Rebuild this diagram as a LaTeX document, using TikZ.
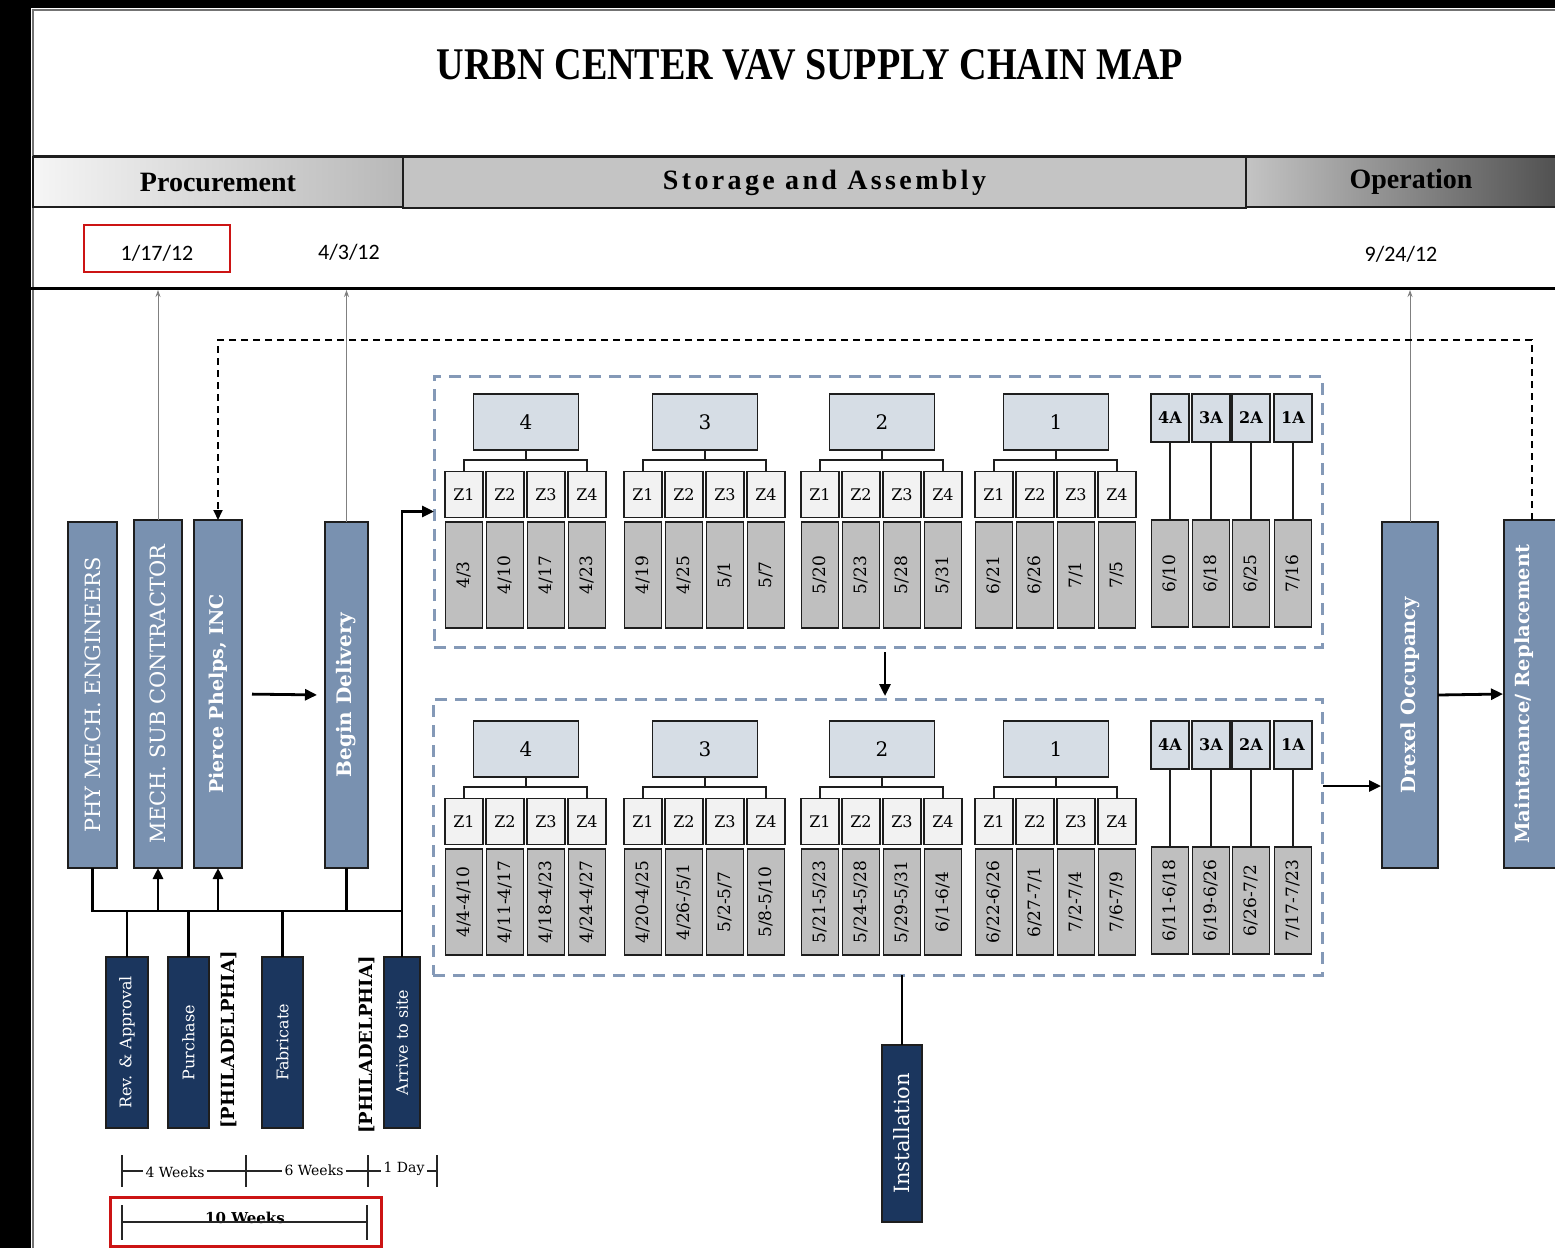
\documentclass[tikz,border=0pt]{standalone}
\usepackage{graphicx}
\usepackage{fontspec}
\setmainfont{DejaVu Serif}
\newfontfamily\tnr{Liberation Serif}
\newfontfamily\tnrsp[LetterSpace=12]{Liberation Serif}
\newfontfamily\calfnt{Carlito}
\usetikzlibrary{arrows.meta,calc}
\definecolor{steel}{RGB}{121,145,176}
\definecolor{navy}{RGB}{27,54,94}
\definecolor{floorc}{RGB}{214,221,229}
\definecolor{zc}{RGB}{242,242,242}
\definecolor{datec}{RGB}{191,191,191}
\definecolor{dashc}{RGB}{132,153,183}
\definecolor{redc}{RGB}{204,20,20}
\definecolor{hdrA}{RGB}{245,245,245}
\definecolor{hdrB}{RGB}{184,184,184}
\definecolor{hdrC}{RGB}{196,196,196}
\definecolor{hdrD}{RGB}{168,168,168}
\definecolor{hdrE}{RGB}{74,74,74}
\definecolor{edge}{RGB}{30,30,30}

\newcommand\zcol[5]{%
  \node[zbox] (#1z#2) at ({#3},{494.5+#4}) {Z#2};
  \node[datebox] (#1d#2) at ({#3},{575+#4}) {\rotatebox{90}{#5}};}
\newcommand\flgroup[8]{%
  \node[floorbox] (#1f) at ({#2+81},{422+#3}) {#4};
  \zcol{#1}{1}{#2+19}{#3}{#5}
  \zcol{#1}{2}{#2+60}{#3}{#6}
  \zcol{#1}{3}{#2+101}{#3}{#7}
  \zcol{#1}{4}{#2+142}{#3}{#8}
  \coordinate (#1lv) at ($(#1f.south)+(0,10)$);
  \draw[tree] (#1f.south) -- (#1lv);
  \draw[tree] (#1z1.north) |- (#1lv) -| (#1z4.north);}
\newcommand\acol[5]{%
  \node[abox] (#1) at ({#2},{418+#3}) {#4};
  \node[datebox, minimum height=107] (#1d) at ({#2},{573.5+#3}) {\rotatebox{90}{#5}};
  \draw[tree] (#1.south) -- (#1d.north);}

\begin{document}
\begin{tikzpicture}[x=1pt,y=-1pt,
  every node/.style={inner sep=0pt, outer sep=0pt},
  vbox/.style={draw=edge, line width=1.5pt, fill=steel, text=white},
  nbox/.style={draw=edge, line width=1.5pt, fill=navy, text=white, font=\fontsize{16}{16}\selectfont},
  floorbox/.style={draw=edge, line width=1.5pt, fill=floorc, minimum width=105, minimum height=56, font=\fontsize{20}{20}\selectfont},
  zbox/.style={draw=edge, line width=1.3pt, fill=zc, minimum width=38, minimum height=46, font=\fontsize{16}{16}\selectfont},
  datebox/.style={draw=edge, line width=1.3pt, fill=datec, minimum width=37, minimum height=106, font=\fontsize{17}{17}\selectfont},
  abox/.style={draw=edge, line width=1.3pt, fill=floorc, minimum width=38, minimum height=48, font=\bfseries\fontsize{16}{16}\selectfont},
  grpframe/.style={draw=dashc, line width=3pt, dash pattern=on 12pt off 8pt},
  tree/.style={draw=edge, line width=1.3pt},
  busline/.style={draw=black, line width=2.8pt},
  bigarr/.style={draw=black, line width=2.8pt, -{Triangle[length=12pt,width=11pt]}},
  thinup/.style={draw=gray, line width=1pt, -{Stealth[length=7pt,width=5pt]}},
  fbdash/.style={draw=black, line width=1.8pt, dash pattern=on 7pt off 5pt},
  hdrcell/.style={draw=edge, line width=1.8pt, anchor=north west},
  datelbl/.style={font=\calfnt\fontsize{22}{22}\selectfont},
  tlbl/.style={fill=white, inner xsep=3pt, inner ysep=1pt, font=\fontsize{14}{14}\selectfont},
  phil/.style={font=\bfseries\fontsize{18}{18}\selectfont}
]
\clip (0,0) rectangle (1555,1248);
\fill[black] (0,0) rectangle (1555,1248);
\fill[white] (31,8) rectangle (1555,1248);
\draw[black!55, line width=1.2pt] (33,1248) -- (33,10) -- (1555,10);

% title
\node (title) at (810,65) {\resizebox{746pt}{30pt}{\tnr\bfseries URBN CENTER VAV SUPPLY CHAIN MAP}};

% header
\draw[edge, line width=2pt] (33,156) -- (1555,156);
\node[hdrcell, left color=hdrA, right color=hdrB, minimum width=370, minimum height=50] (proc) at (33,157) {\tnr\bfseries\fontsize{28}{28}\selectfont Procurement};
\node[hdrcell, fill=hdrC, minimum width=843, minimum height=51] (stor) at (403,157) {\tnrsp\bfseries\fontsize{28}{28}\selectfont Storage and Assembly};
\node[hdrcell, left color=hdrC, middle color=hdrD, right color=hdrE, minimum width=330, minimum height=50] (oper) at (1246,157) {\tnr\bfseries\fontsize{28}{28}\selectfont Operation};

% dates
\node[datelbl, draw=redc, line width=2.5pt, minimum width=146, minimum height=47] (d1) at (157,248.5) {\raisebox{-12pt}[0pt][0pt]{1/17/12}};
\node[datelbl] (d2) at (349,252) {4/3/12};
\node[datelbl] (d3) at (1401,254) {9/24/12};
\draw[black, line width=3pt] (30,288) -- (1555,288);
\coordinate (tl) at (0,290);

% vertical boxes
\node[vbox, minimum width=49, minimum height=346, font=\fontsize{21}{21}\selectfont] (phy) at (92.5,695) {\rotatebox{90}{PHY MECH. ENGINEERS}};
\node[vbox, minimum width=48, minimum height=348, font=\fontsize{21}{21}\selectfont] (msub) at (158,694) {\rotatebox{90}{MECH. SUB CONTRACTOR}};
\node[vbox, minimum width=48, minimum height=348, font=\bfseries\fontsize{19}{19}\selectfont] (pp) at (218,694) {\rotatebox{90}{Pierce Phelps, INC}};
\node[vbox, minimum width=43, minimum height=346, font=\bfseries\fontsize{20}{20}\selectfont] (bd) at (346.5,695) {\rotatebox{90}{Begin Delivery}};
\node[vbox, minimum width=56, minimum height=346, font=\bfseries\fontsize{19.5}{19.5}\selectfont] (drex) at (1410,695) {\rotatebox{90}{Drexel Occupancy}};
\node[vbox, minimum width=56, minimum height=348] (maint) at (1532,694) {};
\node[text=white, font=\bfseries\fontsize{19.5}{19.5}\selectfont] (maintlbl) at (1524,694) {\rotatebox{90}{Maintenance/ Replacement}};

% thin up arrows to timeline
\draw[thinup] (msub.north) -- (msub.north |- tl);
\draw[thinup] (bd.north) -- (bd.north |- tl);
\draw[thinup] (drex.north) -- (drex.north |- tl);

% feedback dashed
\coordinate (fbl) at (218,340);
\draw[fbdash, -{Triangle[length=10pt,width=9pt]}] (maint.north) |- (fbl) -- (pp.north);

% arrows
\draw[bigarr, shorten <=10pt, shorten >=8pt] (pp.east) -- (bd.west);
\draw[bigarr, shorten <=0pt, shorten >=1pt] (drex.east) -- (maint.west);

% bottom small boxes
\node[nbox, minimum width=42, minimum height=171] (rev) at (127,1042.5) {\rotatebox{90}{Rev. \& Approval}};
\node[nbox, minimum width=41, minimum height=171] (pur) at (188.5,1042.5) {\rotatebox{90}{Purchase}};
\node[nbox, minimum width=41, minimum height=171] (fab) at (282.5,1042.5) {\rotatebox{90}{Fabricate}};
\node[nbox, minimum width=36, minimum height=171] (arr) at (402,1042.5) {\rotatebox{90}{Arrive to site}};
\node[phil] (phil1) at (229,1040) {\rotatebox{90}{[PHILADELPHIA]}};
\node[phil] (phil2) at (367,1045) {\rotatebox{90}{[PHILADELPHIA]}};

% group frames
\node[grpframe, minimum width=888, minimum height=271] (gtop) at (878,511.5) {};
\node[grpframe, minimum width=889, minimum height=276] (gbot) at (877.5,837) {};

% bus
\coordinate (busy) at (0,911);
\draw[busline] (phy.south) -- (phy.south |- busy) -- (arr.north |- busy);
\draw[busline, -{Triangle[length=11pt,width=10pt]}] (msub.south |- busy) -- (msub.south);
\draw[busline, -{Triangle[length=11pt,width=10pt]}] (pp.south |- busy) -- (pp.south);
\draw[busline] (bd.south) -- (bd.south |- busy);
\draw[busline] (rev.north) -- (rev.north |- busy);
\draw[busline] (pur.north) -- (pur.north |- busy);
\draw[busline] (fab.north) -- (fab.north |- busy);
\draw[bigarr] (arr.north) |- (gtop.west);

% top group
\flgroup{t4}{445}{0}{4}{4/3}{4/10}{4/17}{4/23}
\flgroup{t3}{624}{0}{3}{4/19}{4/25}{5/1}{5/7}
\flgroup{t2}{801}{0}{2}{5/20}{5/23}{5/28}{5/31}
\flgroup{t1}{975}{0}{1}{6/21}{6/26}{7/1}{7/5}
\acol{ta4}{1170}{0}{4A}{6/10}
\acol{ta3}{1211}{0}{3A}{6/18}
\acol{ta2}{1251}{0}{2A}{6/25}
\acol{ta1}{1293}{0}{1A}{7/16}

% bottom group
\flgroup{b4}{445}{327}{4}{4/4-4/10}{4/11-4/17}{4/18-4/23}{4/24-4/27}
\flgroup{b3}{624}{327}{3}{4/20-4/25}{4/26-/5/1}{5/2-5/7}{5/8-5/10}
\flgroup{b2}{801}{327}{2}{5/21-5/23}{5/24-5/28}{5/29-5/31}{6/1-6/4}
\flgroup{b1}{975}{327}{1}{6/22-6/26}{6/27-7/1}{7/2-7/4}{7/6-7/9}
\acol{ba4}{1170}{327}{4A}{6/11-6/18}
\acol{ba3}{1211}{327}{3A}{6/19-6/26}
\acol{ba2}{1251}{327}{2A}{6/26-7/2}
\acol{ba1}{1293}{327}{1A}{7/17-7/23}

% group connections
\draw[bigarr, shorten <=5pt, shorten >=3pt] ($(gtop.south)+(7,0)$) -- ($(gbot.north)+(7.5,0)$);
\coordinate (a1) at (1323,786);
\draw[bigarr, shorten >=1pt] (a1) -- (a1 -| drex.west);

% installation
\node[nbox, minimum width=40, minimum height=177, font=\fontsize{21}{21}\selectfont] (inst) at (902,1133.5) {\rotatebox{90}{Installation}};
\draw[black, line width=2pt] (inst.north) -- (inst.north |- gbot.south);

% timeline
\draw[black!85, line width=1.3pt] (122,1155) -- (122,1187);
\draw[black!85, line width=1.3pt] (246,1155) -- (246,1187);
\draw[black!85, line width=1.3pt] (368,1155) -- (368,1187);
\draw[black!85, line width=1.3pt] (437,1155) -- (437,1187);
\draw[black!85, line width=1.3pt] (122,1171) -- (437,1171);
\node[tlbl] (w4) at (175,1172) {4 Weeks};
\node[tlbl] (w6) at (314,1170) {6 Weeks};
\node[tlbl] (w1) at (404,1169) {1 Day};

\node[draw=redc, line width=2.5pt, minimum width=271, minimum height=49] (tenbox) at (246,1222) {};
\draw[black!85, line width=1.3pt] (122,1205) -- (122,1240);
\draw[black!85, line width=1.3pt] (367,1205) -- (367,1240);
\node[font=\bfseries\fontsize{15}{15}\selectfont] (w10) at (245,1218) {10 Weeks};
\draw[black!85, line width=1.3pt] (122,1222) -- (367,1222);
\end{tikzpicture}
\end{document}
